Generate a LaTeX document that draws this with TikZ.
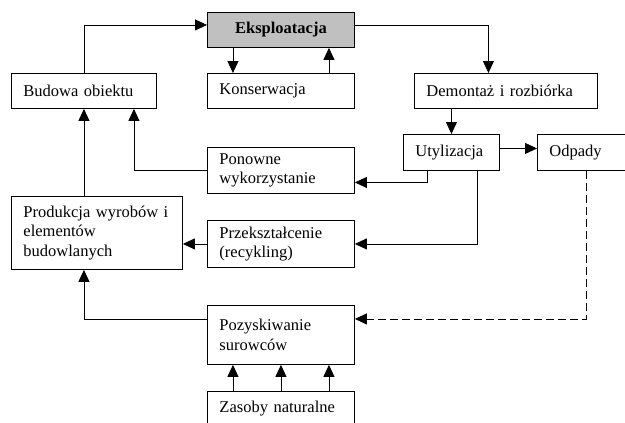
\documentclass[tikz,border=0pt]{standalone}
\usepackage{fontspec}
\setmainfont{Liberation Serif}
\usepackage{tikz}
\usetikzlibrary{arrows.meta}
\definecolor{boxgray}{RGB}{192,192,192}

\begin{document}
\begin{tikzpicture}[x=1pt, y=-1pt, >={Triangle[length=12pt,width=11pt]},
    box/.style={draw, line width=0.9pt, fill=white, inner xsep=12pt, inner ysep=0pt,
        align=left, anchor=north west, font=\fontsize{16.5}{19.5}\selectfont},
    link/.style={->, line width=0.9pt}]
    \useasboundingbox (0,0) rectangle (625,423);
    \clip (0,0) rectangle (625,423);
    % Boxes
    \node[box, fill=boxgray, align=center, text width=123pt, minimum height=35pt,
        font=\fontsize{16.5}{19.5}\selectfont\bfseries] (ekspl) at (207,12) {Eksploatacja};
    \node[box, text width=121pt, minimum height=35pt] (budowa) at (11,73) {Budowa obiektu};
    \node[box, text width=123pt, minimum height=35pt] (konserw) at (207,73) {Konserwacja};
    \node[box, text width=159pt, minimum height=35pt] (demontaz) at (414,73) {Demontaż i rozbiórka};
    \node[box, text width=72pt, minimum height=36pt] (utyl) at (403,134) {Utylizacja};
    \node[box, text width=100pt, minimum height=36pt] (odpady) at (537,134) {Odpady};
    \node[box, text width=123pt, minimum height=46pt] (ponowne) at (207,147) {Ponowne\\wykorzystanie};
    \node[box, text width=147pt, minimum height=73pt] (prod) at (11,196) {Produkcja wyrobów i\\elementów\\budowlanych};
    \node[box, text width=123pt, minimum height=47pt] (przeks) at (207,220) {Przekształcenie\\(recykling)};
    \node[box, text width=123pt, minimum height=59pt] (pozysk) at (207,305) {Pozyskiwanie\\surowców};
    \node[box, text width=123pt, minimum height=34pt] (zasoby) at (207,391) {Zasoby naturalne};
    % Connectors
    \draw[link] (budowa.north) |- ([yshift=5pt]ekspl.west);
    \draw[link] ([xshift=-48pt]ekspl.south) -- ([xshift=-48pt]konserw.north);
    \draw[link] ([xshift=48pt]konserw.north) -- ([xshift=48pt]ekspl.south);
    \draw[link] ([yshift=5pt]ekspl.east) -| ([xshift=-17.5pt]demontaz.north);
    \draw[link] (utyl.north |- demontaz.south) -- (utyl.north);
    \draw[link] ([yshift=4pt]utyl.east) -- ([yshift=4pt]odpady.west);
    \draw[link] ([xshift=-24pt]utyl.south) |- ([yshift=-12pt]ponowne.east);
    \draw[link] ([xshift=26pt]utyl.south) |- (przeks.east);
    \draw[link] (ponowne.west) -| ([xshift=50pt]budowa.south);
    \draw[link] (budowa.south |- prod.north) -- (budowa.south);
    \draw[link] (przeks.west) -- (przeks.west -| prod.east);
    \draw[link] ([yshift=16pt]pozysk.west) -| (budowa.south |- prod.south);
    \draw[link, dash pattern=on 8pt off 4pt] ([xshift=-13.5pt]odpady.south) |- ([yshift=16pt]pozysk.east);
    \foreach \dx in {-48,0,48}
        \draw[link] ([xshift=\dx pt]zasoby.north) -- ([xshift=\dx pt]pozysk.south);
\end{tikzpicture}
\end{document}
